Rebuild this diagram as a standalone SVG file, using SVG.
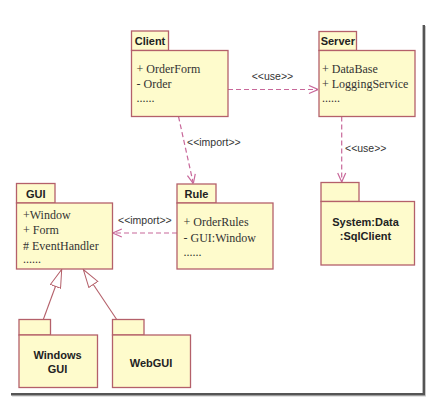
<svg xmlns="http://www.w3.org/2000/svg" width="432" height="414" viewBox="0 0 432 414">
<style>
.box{fill:#fefbcc;stroke:#b4606a;stroke-width:1.3}
.title{font-family:"Liberation Sans",Arial,sans-serif;font-weight:bold;font-size:11px;fill:#222;text-anchor:middle}
.big{font-family:"Liberation Sans",Arial,sans-serif;font-weight:bold;font-size:11px;fill:#222;text-anchor:middle}
.item{font-family:"Liberation Serif","Times New Roman",serif;font-size:12px;fill:#333}
.lbl{font-family:"Liberation Sans",Arial,sans-serif;font-size:10.5px;fill:#333}
.dep{fill:none;stroke:#c8689a;stroke-width:1.2;stroke-dasharray:5,3}
.gen{fill:none;stroke:#b4606a;stroke-width:1.1}
</style>
<defs>
<marker id="open" viewBox="0 0 10 10" refX="10" refY="5" markerWidth="10" markerHeight="10" markerUnits="userSpaceOnUse" orient="auto">
<path d="M1,1 L10,5 L1,9" fill="none" stroke="#c8689a" stroke-width="1.2"/>
</marker>
<marker id="tri" viewBox="0 0 19 12" refX="18.5" refY="6" markerWidth="19" markerHeight="12" markerUnits="userSpaceOnUse" orient="auto">
<path d="M0.5,0.6 L18.5,6 L0.5,11.4 Z" fill="#ffffff" stroke="#b4606a" stroke-width="1"/>
</marker>
</defs>
<rect width="432" height="414" fill="#ffffff"/>
<g id="frame">
<line x1="425.5" y1="26" x2="425.5" y2="396" stroke="#c8c8c8" stroke-width="1"/>
<line x1="12" y1="396" x2="426" y2="396" stroke="#c8c8c8" stroke-width="1"/>
<line x1="423.8" y1="25" x2="423.8" y2="394.5" stroke="#555" stroke-width="2.4"/>
<line x1="11" y1="394.3" x2="425" y2="394.3" stroke="#555" stroke-width="2.4"/>
</g>
<g id="connectors">
<line class="dep" x1="228" y1="89.5" x2="318" y2="89.5" marker-end="url(#open)"/>
<line class="dep" x1="178.5" y1="116.5" x2="193.3" y2="183.5" marker-end="url(#open)"/>
<line class="dep" x1="341.7" y1="116.5" x2="341.7" y2="182" marker-end="url(#open)"/>
<line class="dep" x1="177" y1="233" x2="112.8" y2="233" marker-end="url(#open)"/>
<line class="gen" x1="43.3" y1="319.5" x2="61.7" y2="269.5" marker-end="url(#tri)"/>
<line class="gen" x1="116.7" y1="319.5" x2="83.3" y2="269.5" marker-end="url(#tri)"/>
<text class="lbl" x="251.7" y="80">&lt;&lt;use&gt;&gt;</text>
<text class="lbl" x="187" y="146">&lt;&lt;import&gt;&gt;</text>
<text class="lbl" x="345" y="152">&lt;&lt;use&gt;&gt;</text>
<text class="lbl" x="118" y="224">&lt;&lt;import&gt;&gt;</text>
</g>
<g id="client">
<rect class="box" x="131.5" y="31" width="37" height="19.5"/>
<rect class="box" x="131.5" y="50.5" width="96.5" height="66"/>
<text class="title" x="150" y="45">Client</text>
<text class="item" x="136.5" y="72.5">+ OrderForm</text>
<text class="item" x="136.5" y="88">- Order</text>
<text class="item" x="136.5" y="102">......</text>
</g>
<g id="server">
<rect class="box" x="319" y="31.5" width="37.5" height="19"/>
<rect class="box" x="319" y="50.5" width="96" height="66"/>
<text class="title" x="337.8" y="45">Server</text>
<text class="item" x="322" y="72.5">+ DataBase</text>
<text class="item" x="322" y="88">+ LoggingService</text>
<text class="item" x="322" y="102">......</text>
</g>
<g id="gui">
<rect class="box" x="16.5" y="183.5" width="38.5" height="19.5"/>
<rect class="box" x="16.5" y="203" width="96" height="66"/>
<text class="title" x="35.8" y="197.5">GUI</text>
<text class="item" x="23" y="218.5">+Window</text>
<text class="item" x="23" y="234">+ Form</text>
<text class="item" x="23" y="249.5">#&#160;EventHandler</text>
<text class="item" x="23" y="263">......</text>
</g>
<g id="rule">
<rect class="box" x="177" y="184" width="39" height="19"/>
<rect class="box" x="177" y="203" width="96" height="66"/>
<text class="title" x="196.5" y="198">Rule</text>
<text class="item" x="183.5" y="226">+ OrderRules</text>
<text class="item" x="183.5" y="242">- GUI:Window</text>
<text class="item" x="183.5" y="255.5">......</text>
</g>
<g id="sqlclient">
<rect class="box" x="321" y="182.5" width="38" height="19"/>
<rect class="box" x="321" y="201.5" width="93.5" height="63.5"/>
<text class="big" x="365.5" y="226">System:Data</text>
<text class="big" x="365.5" y="239.5">:SqlClient</text>
</g>
<g id="windowsgui">
<rect class="box" x="19" y="319.5" width="31.5" height="15.5"/>
<rect class="box" x="19" y="335" width="78.5" height="52.5"/>
<text class="big" x="57.5" y="359">Windows</text>
<text class="big" x="57.5" y="373">GUI</text>
</g>
<g id="webgui">
<rect class="box" x="112.5" y="319.5" width="31.5" height="15.5"/>
<rect class="box" x="112.5" y="335" width="78" height="52.5"/>
<text class="big" x="151" y="367">WebGUI</text>
</g>
</svg>
